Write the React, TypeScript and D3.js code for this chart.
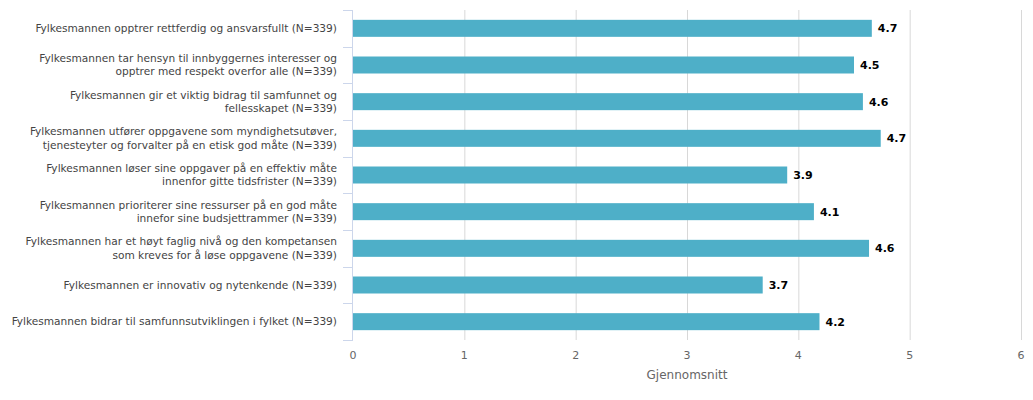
import React from "react";
import * as d3 from "d3";

const categories: string[] = [
  "Fylkesmannen opptrer rettferdig og ansvarsfullt (N=339)",
  "Fylkesmannen tar hensyn til innbyggernes interesser og\nopptrer med respekt overfor alle (N=339)",
  "Fylkesmannen gir et viktig bidrag til samfunnet og\nfellesskapet (N=339)",
  "Fylkesmannen utfører oppgavene som myndighetsutøver,\ntjenesteyter og forvalter på en etisk god måte (N=339)",
  "Fylkesmannen løser sine oppgaver på en effektiv måte\ninnenfor gitte tidsfrister (N=339)",
  "Fylkesmannen prioriterer sine ressurser på en god måte\ninnefor sine budsjettrammer (N=339)",
  "Fylkesmannen har et høyt faglig nivå og den kompetansen\nsom kreves for å løse oppgavene (N=339)",
  "Fylkesmannen er innovativ og nytenkende (N=339)",
  "Fylkesmannen bidrar til samfunnsutviklingen i fylket (N=339)",
];
const values: number[] = [4.66, 4.5, 4.58, 4.74, 3.9, 4.14, 4.635, 3.68, 4.19];
const xTicks: number[] = [0, 1, 2, 3, 4, 5, 6];
const xTitle = "Gjennomsnitt";

const W = 1033;
const H = 400;
const left = 353;
const right = 1021;
const top = 10;
const bottom = 340;
const FONT = "'DejaVu Sans', Verdana, sans-serif";

export default function App() {
  const x = d3.scaleLinear().domain([0, 6]).range([left, right]);
  const y = d3
    .scaleBand<number>()
    .domain(categories.map((_, i) => i))
    .range([top, bottom]);
  const bw = y.bandwidth();
  const barH = 17;
  const fmt = d3.format(".1f");

  return (
    <svg
      width={W}
      height={H}
      style={{ position: "absolute", left: 0, top: 0, background: "#fff" }}
      fontFamily={FONT}
    >
      {xTicks
        .filter((t) => t !== 0)
        .map((t) => (
          <line
            key={"g" + t}
            x1={x(t) + 0.5}
            x2={x(t) + 0.5}
            y1={top}
            y2={bottom}
            stroke="#d8d8d8"
            strokeWidth={1}
          />
        ))}
      <line x1={left - 0.5} x2={left - 0.5} y1={top} y2={bottom} stroke="#ccd6eb" />
      {d3.range(categories.length + 1).map((i) => {
        const yy = Math.round(top + i * bw) + 0.5;
        return (
          <line key={"t" + i} x1={left - 10} x2={left} y1={yy} y2={yy} stroke="#ccd6eb" />
        );
      })}
      {values.map((v, i) => {
        const cy = (y(i) as number) + bw / 2;
        return (
          <g key={"b" + i}>
            <rect
              x={x(0)}
              y={cy - barH / 2}
              width={x(v) - x(0)}
              height={barH}
              fill="#4eafc8"
            />
            <text
              x={x(v) + 6}
              y={cy}
              dy="0.35em"
              fontSize={11}
              fontWeight="bold"
              fill="#000"
              stroke="#fff"
              strokeWidth={2}
              strokeLinejoin="round"
              style={{ paintOrder: "stroke" }}
            >
              {fmt(v)}
            </text>
          </g>
        );
      })}
      {categories.map((c, i) => {
        const lines = c.split("\n");
        const cy = (y(i) as number) + bw / 2;
        const lh = 13.5;
        const y0 = cy - ((lines.length - 1) * lh) / 2;
        return (
          <text
            key={"c" + i}
            x={337}
            textAnchor="end"
            fontSize={10.6}
            fill="#444"
          >
            {lines.map((l, j) => (
              <tspan key={j} x={337} y={y0 + j * lh} dy="0.35em">
                {l}
              </tspan>
            ))}
          </text>
        );
      })}
      {xTicks.map((t) => (
        <text
          key={"x" + t}
          x={x(t)}
          y={355}
          dy="0.35em"
          textAnchor="middle"
          fontSize={11}
          fill="#666"
        >
          {t}
        </text>
      ))}
      <text
        x={(left + right) / 2}
        y={375}
        dy="0.35em"
        textAnchor="middle"
        fontSize={12}
        fill="#666"
      >
        {xTitle}
      </text>
    </svg>
  );
}
